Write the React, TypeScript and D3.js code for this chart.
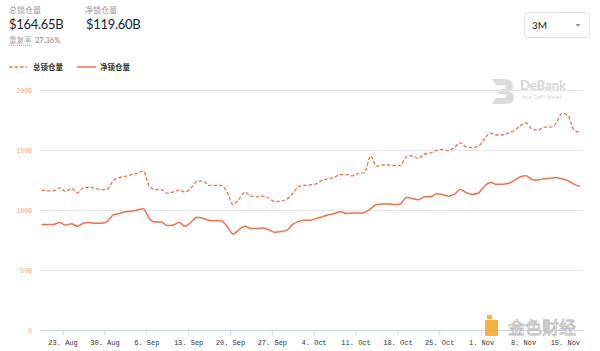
import { useRef, useEffect } from "react";
import * as d3 from "d3";

// daily points (noon), 19 Aug 2021 .. 17 Nov 2021
const startDay = "2021-08-19T12:00:00";

const totalLocked = [
  116.5, 116, 116, 118.5, 115.5, 118, 114.5, 118.5, 119, 118,
  117, 117.5, 124.5, 127, 128, 129.5, 130.5, 132.5, 120, 117,
  117, 114, 115, 116.5, 115, 118.5, 124, 124, 120.5, 120.5,
  120.5, 115, 104.5, 109, 115, 111.5, 111, 111.5, 110, 107,
  107.5, 109, 114, 119.5, 120.5, 121, 122, 125, 126, 127.5,
  129.5, 129.5, 128.5, 130.5, 131, 145, 136.5, 137.5, 137.5, 137,
  137, 144.5, 145, 143, 146.5, 147.5, 149.5, 150.5, 149.5, 152,
  156, 152.5, 152, 153, 159, 164, 162.5, 162.5, 164, 166,
  170, 172.5, 167.5, 166.5, 169, 169, 172, 180.5, 179, 167,
  164.65,
];

const netLocked = [
  88, 88, 88, 89.5, 87.5, 88.5, 86.5, 89, 89.5, 89,
  89, 90.5, 96, 97, 98.5, 99, 100, 101, 93, 90,
  90, 87, 87.5, 89.5, 86.5, 90, 94, 93, 91.5, 91,
  91, 86.5, 80, 83.5, 86.5, 84.5, 84.5, 85, 83.5, 81.5,
  82, 83, 88, 90.5, 91.5, 91.5, 93, 94.5, 96, 97,
  98.5, 97, 97.5, 97.5, 98, 101, 104.5, 105, 105, 104.5,
  105, 110.5, 109.5, 108.5, 111, 111, 113.5, 113, 111.5, 113,
  117, 114.5, 113, 114, 119.5, 123, 121.5, 121.5, 122, 124.5,
  127.5, 128.5, 125.5, 125, 126, 126.5, 127, 126, 124.5, 121.5,
  119.6,
];

const yTicks = [0, 50, 100, 150, 200];
const seriesNames = ["总锁仓量", "净锁仓量"];

const W = 600;
const H = 351;
const lineColor = "#f07050";

export default function App() {
  const svgRef = useRef<SVGSVGElement>(null);

  useEffect(() => {
    const svg = d3.select(svgRef.current);
    svg.selectAll("*").remove();

    const start = new Date(startDay);
    const dates = totalLocked.map((_, i) => d3.timeDay.offset(start, i));

    const x = d3
      .scaleTime()
      .domain([dates[0], dates[dates.length - 1]])
      .range([41.6, 579.8]);
    const y = d3.scaleLinear().domain([0, 200]).range([330, 90]);

    // header
    const hd = svg.append("g").attr("font-family", "'Noto Sans CJK SC', Lato, sans-serif");
    hd.append("text").attr("x", 9).attr("y", 13).attr("font-size", 8).attr("fill", "#999").text(seriesNames[0]);
    hd.append("text").attr("x", 85).attr("y", 13).attr("font-size", 8).attr("fill", "#999").text(seriesNames[1]);
    hd.append("text").attr("x", 9).attr("y", 28.5).attr("font-size", 13).attr("fill", "#1a1f36")
      .attr("font-family", "Lato, sans-serif").attr("letter-spacing", -0.3).text("$164.65B");
    hd.append("text").attr("x", 86).attr("y", 28.5).attr("font-size", 13).attr("fill", "#1a1f36")
      .attr("font-family", "Lato, sans-serif").attr("letter-spacing", -0.3).text("$119.60B");
    hd.append("text").attr("x", 9).attr("y", 43).attr("font-size", 7.5).attr("fill", "#aaa").text("重复率");
    hd.append("line").attr("x1", 9).attr("x2", 32).attr("y1", 45.5).attr("y2", 45.5)
      .attr("stroke", "#bbb").attr("stroke-dasharray", "1,1");
    hd.append("text").attr("x", 35).attr("y", 43).attr("font-size", 7.5).attr("fill", "#888")
      .attr("font-family", "Lato, sans-serif").text("27.36%");

    // range selector
    svg.append("rect").attr("x", 524.5).attr("y", 12.5).attr("width", 65).attr("height", 25).attr("rx", 2)
      .attr("fill", "#fff").attr("stroke", "#e3e3e3");
    svg.append("text").attr("x", 532).attr("y", 29).attr("font-size", 10).attr("fill", "#222")
      .attr("font-family", "Lato, sans-serif").text("3M");
    svg.append("path").attr("d", "M575.5,24 L580.5,24 L578,27 Z").attr("fill", "#999");

    // legend
    const lg = svg.append("g");
    lg.append("line").attr("x1", 9).attr("x2", 27).attr("y1", 67).attr("y2", 67)
      .attr("stroke", lineColor).attr("stroke-width", 1.5).attr("stroke-dasharray", "3.5,2");
    lg.append("line").attr("x1", 77).attr("x2", 96).attr("y1", 67).attr("y2", 67)
      .attr("stroke", lineColor).attr("stroke-width", 1.5);
    lg.append("text").attr("x", 33).attr("y", 70).attr("font-size", 7.5).attr("font-weight", "bold")
      .attr("fill", "#333").attr("font-family", "'Noto Sans CJK SC', sans-serif").text(seriesNames[0]);
    lg.append("text").attr("x", 100).attr("y", 70).attr("font-size", 7.5).attr("font-weight", "bold")
      .attr("fill", "#333").attr("font-family", "'Noto Sans CJK SC', sans-serif").text(seriesNames[1]);

    // watermark DeBank
    const wm = svg.append("g").attr("opacity", 0.35);
    wm.append("path")
      .attr("d", "M492,79 L503,79 Q513,79 513,87 Q513,90 510,92 Q514,94 514,97 Q514,104 504,104 L492,104 L496,98 L503,98 Q507,98 507,96 Q507,94 503,94 L498,94 L500,89 L503,89 Q506,89 506,87.5 Q506,85 503,85 L496,85 Z")
      .attr("fill", "#999");
    wm.append("text").attr("x", 520).attr("y", 90).attr("font-size", 13).attr("font-weight", "bold")
      .attr("fill", "#888").attr("font-family", "Lato, sans-serif").text("DeBank");
    wm.append("text").attr("x", 521).attr("y", 99).attr("font-size", 5.5).attr("fill", "#888")
      .attr("font-family", "Lato, sans-serif").text("Your DeFi Wallet");

    // grid + y labels
    const grid = svg.append("g");
    grid.selectAll("line").data(yTicks).join("line")
      .attr("x1", 40).attr("x2", 583)
      .attr("y1", (d) => Math.round(y(d)) + 0.5).attr("y2", (d) => Math.round(y(d)) + 0.5)
      .attr("stroke", (d) => (d === 0 ? "#ccd6eb" : "#e6e6e6"));
    grid.selectAll("text").data(yTicks).join("text")
      .attr("x", 32).attr("y", (d) => y(d) + 2.5).attr("text-anchor", "end")
      .attr("font-size", 6.5).attr("fill", "#f0a890").attr("font-family", "'Liberation Mono', monospace")
      .text((d) => (d === 0 ? "0" : `${d}B`));

    // watermark bottom right (kept above the tick labels)
    const jw = svg.append("g");
    jw.append("rect").attr("x", 485).attr("y", 320).attr("width", 13).attr("height", 16).attr("fill", "#f5a623").attr("opacity", 0.85);
    jw.append("rect").attr("x", 487).attr("y", 315).attr("width", 5).attr("height", 4).attr("fill", "#f5a623").attr("opacity", 0.85);
    jw.append("text").attr("x", 508).attr("y", 333.5).attr("font-size", 17)
      .attr("fill", "#fff").attr("stroke", "#bbb").attr("stroke-width", 0.8)
      .attr("font-family", "'Noto Sans CJK SC', sans-serif").text("金色财经");

    // x axis
    const xAxis = d3.axisBottom(x)
      .ticks(d3.timeMonday.every(1))
      .tickFormat((d) => d3.timeFormat("%-d. %b")(d as Date))
      .tickSize(5)
      .tickSizeOuter(0);
    const gx = svg.append("g").attr("transform", "translate(0,330.5)").call(xAxis);
    gx.select(".domain").remove();
    gx.selectAll(".tick line").attr("stroke", "#ccd6eb");
    gx.selectAll(".tick text").attr("font-size", 7).attr("fill", "#333")
      .attr("font-family", "'Liberation Mono', monospace").attr("dy", "0.9em");

    // lines
    const mk = (vals: number[]) =>
      d3.line<number>()
        .x((_, i) => x(dates[i]))
        .y((d) => y(d))
        .curve(d3.curveMonotoneX)(vals);

    svg.append("path").attr("d", mk(totalLocked)).attr("fill", "none")
      .attr("stroke", lineColor).attr("stroke-width", 1.3).attr("stroke-dasharray", "3.5,2");
    svg.append("path").attr("d", mk(netLocked)).attr("fill", "none")
      .attr("stroke", lineColor).attr("stroke-width", 1.5);
  }, []);

  return (
    <div style={{ position: "fixed", left: 0, top: 0, width: W, height: H, background: "#fff" }}>
      <svg ref={svgRef} width={W} height={H} style={{ display: "block" }} />
    </div>
  );
}
